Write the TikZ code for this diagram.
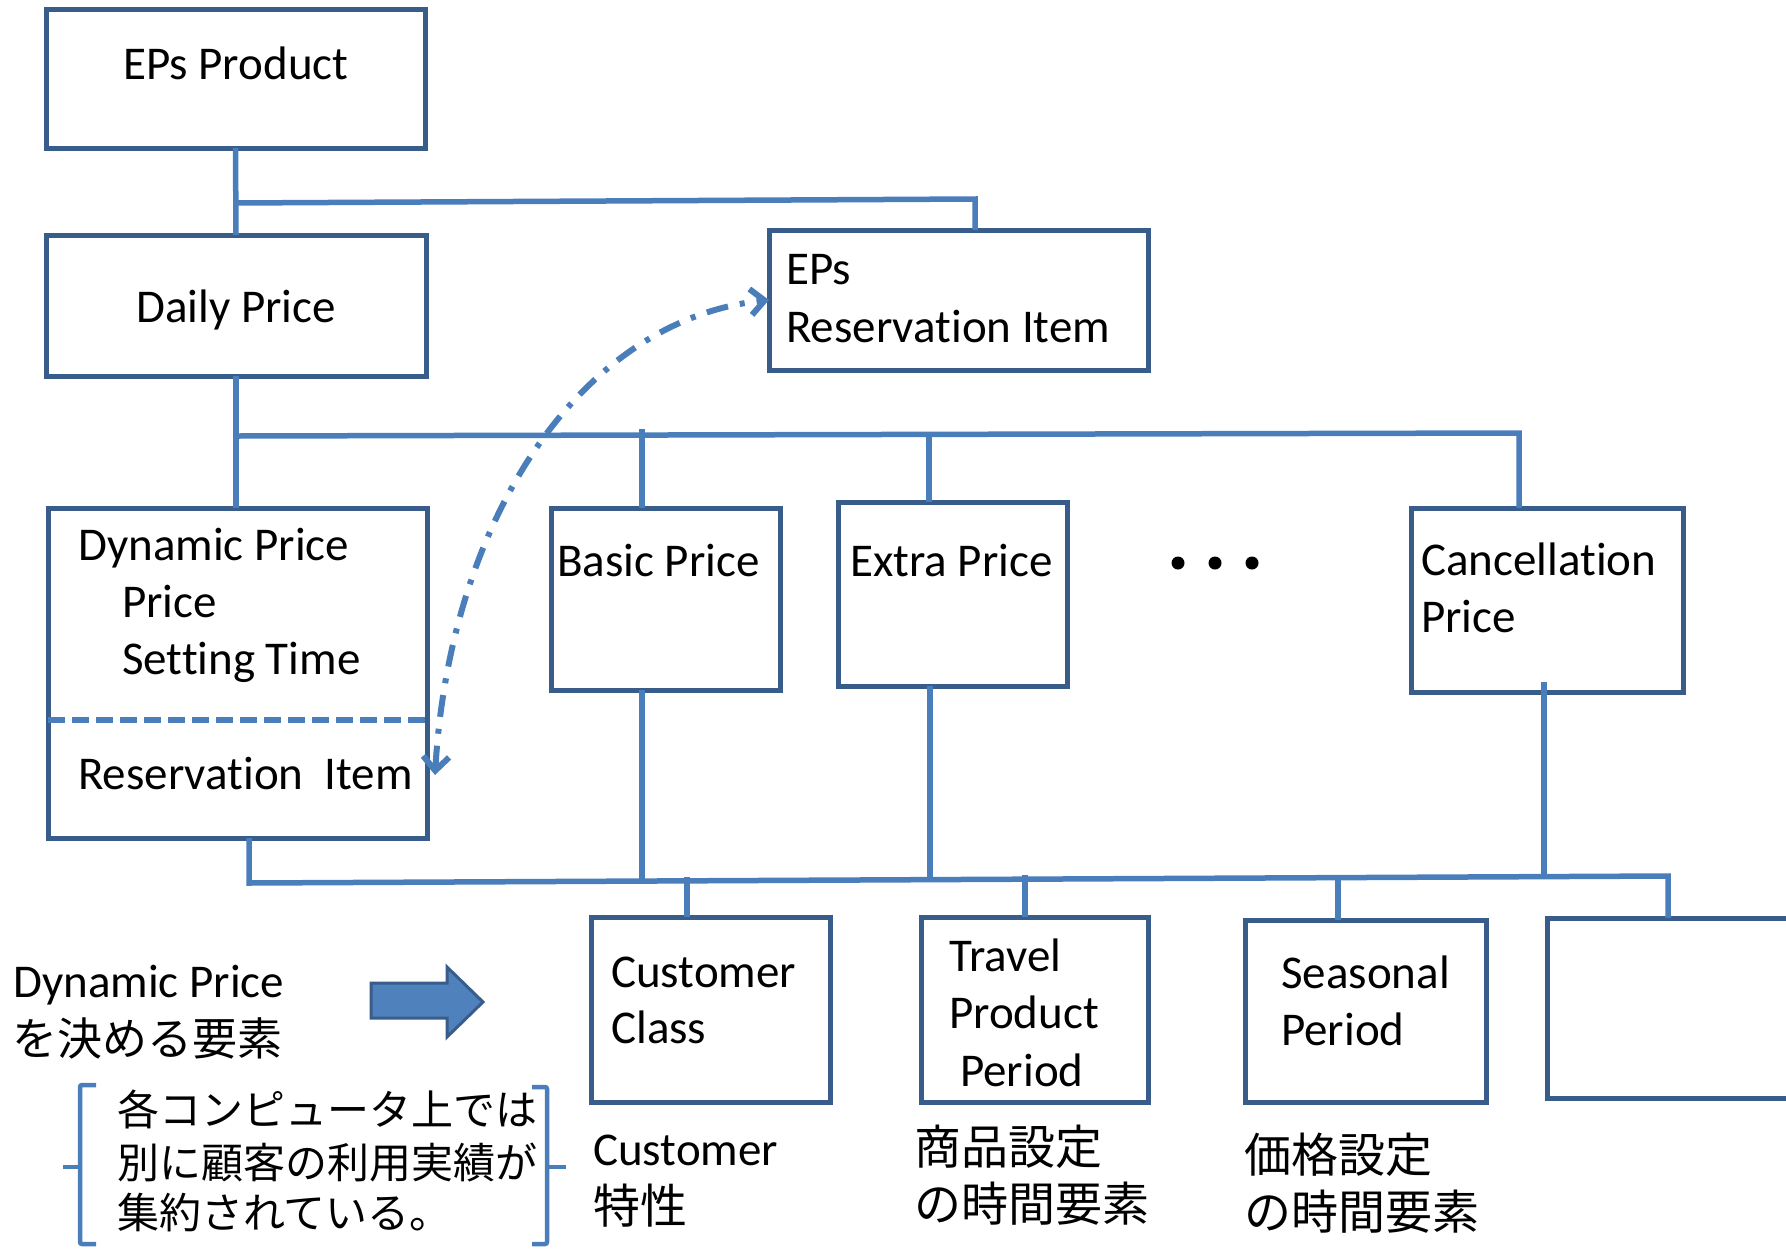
\documentclass[tikz,border=0pt]{standalone}
\usepackage{fontspec}
\setmainfont{Carlito}[Ligatures=NoCommon]
\newfontfamily\jp{Noto Sans CJK JP}
\usetikzlibrary{arrows.meta}
\definecolor{boxc}{HTML}{385D8A}
\definecolor{linec}{HTML}{4A7EBB}
\definecolor{fillc}{HTML}{4F81BD}
\tikzset{barbtip/.tip={Straight Barb[length=14pt,width=26pt]}}
\begin{document}
\begin{tikzpicture}[x=1pt,y=-1pt,
 box/.style={draw=boxc, line width=5pt, anchor=north west, inner sep=0pt, outer sep=0pt},
 conn/.style={draw=linec, line width=5.5pt},
 lbl/.style={anchor=base west, inner sep=0pt, font=\fontsize{47}{56}\selectfont},
 jlbl/.style={anchor=base west, inner sep=0pt, font=\jp\fontsize{45}{54}\selectfont},
 jsmall/.style={anchor=base west, inner sep=0pt, font=\jp\fontsize{42}{50}\selectfont},
 arcline/.style={draw=linec, line width=6pt, dash pattern=on 22pt off 12pt on 5pt off 12pt},
 ]
\useasboundingbox (0,0) rectangle (1786,1248);
\clip (0,0) rectangle (1786,1248);

% boxes
\node[box, minimum width=379pt, minimum height=139pt] (epsprod) at (46,9) {};
\node[box, minimum width=380pt, minimum height=141pt] (daily) at (46,235) {};
\node[box, minimum width=379pt, minimum height=140pt] (epsres) at (769,230) {};
\node[box, minimum width=379pt, minimum height=330pt] (dyn) at (48,508) {};
\node[box, minimum width=229pt, minimum height=182pt] (basic) at (551,508) {};
\node[box, minimum width=229pt, minimum height=184pt] (extra) at (838,502) {};
\node[box, minimum width=272pt, minimum height=184pt] (cancel) at (1411,508) {};
\node[box, minimum width=239pt, minimum height=185pt] (cust) at (591,917) {};
\node[box, minimum width=227pt, minimum height=185pt] (travel) at (921,917) {};
\node[box, minimum width=241pt, minimum height=182pt] (season) at (1245,920) {};
\node[box, minimum width=260pt, minimum height=180pt] (empty) at (1547,918) {};

% box texts
\node[lbl] (t1) at (123,79) {EPs Product};
\node[lbl] (t2) at (136,322) {Daily Price};
\node[lbl] (t3) at (786,284) {EPs};
\node[lbl] (t4) at (786,342) {Reservation Item};
\node[lbl] (t5) at (78,560) {Dynamic Price};
\node[lbl] (t6) at (122,617) {Price};
\node[lbl] (t7) at (122,674) {Setting Time};
\node[lbl] (t8) at (78,789) {Reservation~~Item};
\node[lbl] (t9) at (557,576) {Basic Price};
\node[lbl] (t10) at (850,576) {Extra Price};
\node[lbl] (t11) at (1421,575) {Cancellation};
\node[lbl] (t12) at (1421,632) {Price};
\node[lbl] (t13) at (611,987) {Customer};
\node[lbl] (t14) at (611,1043) {Class};
\node[lbl] (t15) at (949,971) {Travel};
\node[lbl] (t16) at (949,1028) {Product};
\node[lbl] (t17) at (960,1086) {Period};
\node[lbl] (t18) at (1281,988) {Seasonal};
\node[lbl] (t19) at (1281,1045) {Period};

% dots
\fill (1178,563) circle[radius=6.5pt];
\fill (1215,563) circle[radius=6.5pt];
\fill (1252,563) circle[radius=6.5pt];

% labels below
\node[lbl] (u1) at (593,1165) {Customer};
\node[jlbl, font=\jp\fontsize{47}{54}\selectfont] (u2) at (593,1223) {特性};
\node[jlbl, font=\jp\fontsize{47}{54}\selectfont] (u3) at (914,1164) {商品設定};
\node[jlbl, font=\jp\fontsize{47}{54}\selectfont] (u4) at (914,1221) {の時間要素};
\node[jlbl, font=\jp\fontsize{47}{54}\selectfont] (u5) at (1244,1172) {価格設定};
\node[jlbl, font=\jp\fontsize{47}{54}\selectfont] (u6) at (1244,1229) {の時間要素};

% left texts
\node[lbl] (l1) at (13,997) {Dynamic Price};
\node[jlbl] (l2) at (12,1055) {を決める要素};
\node[jsmall] (n1) at (117,1125) {各コンピュータ上では};
\node[jsmall] (n2) at (117,1178) {別に顧客の利用実績が};
\node[jsmall] (n3) at (117,1228) {集約されている。};

% block arrow
\draw[fill=fillc, draw=boxc, line width=3pt, line join=miter]
  (371,983) -- (447,983) -- (447,967) -- (483,1002) -- (447,1037) -- (447,1018) -- (371,1018) -- cycle;

% brackets
\draw[linec, line width=4.5pt, rounded corners=2pt] (96,1085) -- (80,1085) -- (80,1244) -- (96,1244);
\draw[linec, line width=4.5pt] (63,1167) -- (80,1167);
\draw[linec, line width=4.5pt, rounded corners=2pt] (532,1087) -- (547,1087) -- (547,1244) -- (532,1244);
\draw[linec, line width=4.5pt] (547,1167) -- (566,1167);

% connectors
\coordinate (j0) at (235,203);
\coordinate (j0r) at (975,199);
\draw[conn] (epsprod.south) -- (daily.north);
\draw[conn] (j0) -- (j0r) -- (j0r |- epsres.north);

\coordinate (ub0) at (237,436);
\coordinate (ub1) at (1519,433);
\coordinate (ubb) at (642,429);
\coordinate (ube) at (929,434);
\draw[conn] (daily.south) -- (daily.south |- dyn.north);
\draw[conn] (ub0) -- (ub1) -- (ub1 |- cancel.north);
\draw[conn] (ubb) -- (ubb |- basic.north);
\draw[conn] (ube) -- (ube |- extra.north);

\coordinate (lb0) at (249,883);
\coordinate (lb1) at (1668,876);
\coordinate (lbb) at (642,881);
\coordinate (lbe) at (930,879);
\coordinate (lbc) at (1544,876);
\coordinate (lbc0) at (1544,682);
\coordinate (lcu) at (687,877);
\coordinate (ltr) at (1025,875);
\coordinate (lse) at (1338,878);
\draw[conn] (lb0 |- dyn.south) -- (lb0) -- (lb1) -- (lb1 |- empty.north);
\draw[conn] (lbb |- basic.south) -- (lbb);
\draw[conn] (lbe |- extra.south) -- (lbe);
\draw[conn] (lbc0) -- (lbc);
\draw[conn] (lcu) -- (lcu |- cust.north);
\draw[conn] (ltr) -- (ltr |- travel.north);
\draw[conn] (lse) -- (lse |- season.north);

% dashed divider
\coordinate (dl) at (48,720);
\draw[conn, dash pattern=on 17pt off 7pt] (dl) -- (dl -| dyn.east);

% dash-dot arc
\coordinate (arcS) at (435,775);
\draw[arcline, barbtip-barbtip] (arcS) .. controls (450,520) and (580,320) .. (epsres.west);
\end{tikzpicture}
\end{document}
